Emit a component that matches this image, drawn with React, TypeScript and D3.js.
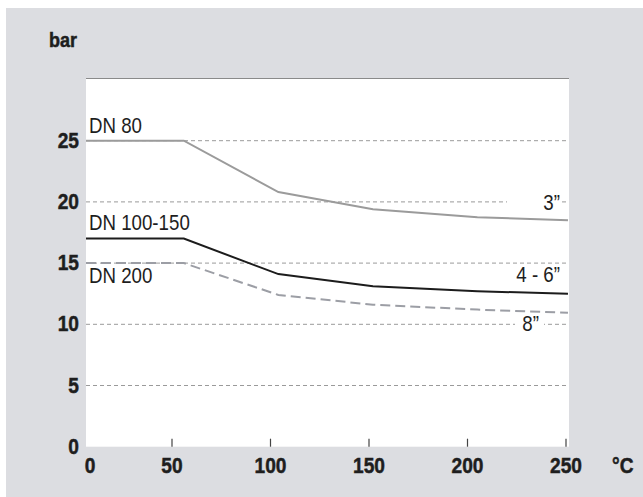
import React from "react";
import * as d3 from "d3";

// ---- data ----
const yTicks = [0, 5, 10, 15, 20, 25];
const xTicks = [0, 50, 100, 150, 200, 250];
const gridValues = [5, 10, 15, 20, 25];
const temps = [0, 56, 104, 152, 205, 251];
const dn80 = [25, 25, 20.8, 19.4, 18.75, 18.5];
const dn100 = [17, 17, 14.1, 13.1, 12.7, 12.5];
const dn200 = [15, 15, 12.4, 11.6, 11.2, 10.95];
const leftLabels = ["DN 80", "DN 100-150", "DN 200"];
const rightLabels = ["3\u201d", "4 - 6\u201d", "8\u201d"];
const yUnit = "bar";
const xUnit = "\u00b0C";

const W = 643;
const H = 497;
const plot = { left: 86, right: 569, top: 78, bottom: 446.7 };

const sans = "'Liberation Sans', Arial, Helvetica, sans-serif";

type NTextProps = {
  x: number;
  y: number;
  sx?: number;
  anchor?: "start" | "middle" | "end";
  bold?: boolean;
  size?: number;
  children: React.ReactNode;
};

function NText({ x, y, sx = 0.85, anchor = "start", bold = false, size = 22, children }: NTextProps) {
  return (
    <text
      transform={`translate(${x},${y}) scale(${sx},1)`}
      textAnchor={anchor}
      fontFamily={sans}
      fontSize={size}
      fontWeight={bold ? "bold" : "normal"}
      fill="#1e1e1e"
      stroke={bold ? "#1e1e1e" : "none"}
      strokeWidth={bold ? 0.5 : 0}
    >
      {children}
    </text>
  );
}

export default function App() {
  const x = d3.scaleLinear().domain([0, 50, 250]).range([86, 172, 566]);
  const y = d3.scaleLinear().domain([0, 30]).range([plot.bottom, 79.5]);

  const line = d3
    .line<[number, number]>()
    .x((d) => x(d[0]))
    .y((d) => y(d[1]));

  const toPts = (vals: number[]) => temps.map((t, i) => [t, vals[i]] as [number, number]);

  return (
    <svg
      width={W}
      height={H}
      style={{ position: "absolute", left: 0, top: 0 }}
      viewBox={`0 0 ${W} ${H}`}
    >
      <rect x={6} y={8} width={W - 6} height={H - 8} fill="#dcdde1" />
      <rect
        x={plot.left}
        y={plot.top}
        width={plot.right - plot.left}
        height={plot.bottom - plot.top}
        fill="#ffffff"
      />
      <line x1={plot.left} x2={plot.right} y1={plot.top + 0.5} y2={plot.top + 0.5} stroke="#8a8a8a" strokeWidth={1} />

      {/* grid lines */}
      {gridValues.map((v) => (
        <line
          key={v}
          x1={plot.left}
          x2={plot.right}
          y1={y(v)}
          y2={y(v)}
          stroke="#9a9a9a"
          strokeWidth={1}
          strokeDasharray="4,3"
        />
      ))}

      {/* label masks */}
      <rect x={507} y={y(20) - 8} width={55} height={18} fill="#ffffff" />
      <rect x={515} y={y(10) - 10} width={29} height={19} fill="#ffffff" />

      {/* x ticks */}
      {xTicks.slice(1).map((t) => (
        <line key={t} x1={x(t)} x2={x(t)} y1={plot.bottom} y2={plot.bottom - 8} stroke="#444" strokeWidth={1.2} />
      ))}

      {/* series */}
      <path d={line(toPts(dn80)) || ""} fill="none" stroke="#9b9b9b" strokeWidth={2} />
      <path d={line(toPts(dn100)) || ""} fill="none" stroke="#1c1c1c" strokeWidth={2} />
      <path d={line(toPts(dn200)) || ""} fill="none" stroke="#9c9ea5" strokeWidth={2} strokeDasharray="10,5" />

      {/* series labels */}
      <NText x={89} y={y(25) - 8}>{leftLabels[0]}</NText>
      <NText x={89} y={y(17) - 9}>{leftLabels[1]}</NText>
      <NText x={89} y={y(15) + 20}>{leftLabels[2]}</NText>
      <NText x={560} y={y(20) + 8} anchor="end">{rightLabels[0]}</NText>
      <NText x={560} y={y(15) + 19} anchor="end">{rightLabels[1]}</NText>
      <NText x={539} y={y(10) + 7} anchor="end">{rightLabels[2]}</NText>

      {/* axis tick labels */}
      {yTicks.map((v) => (
        <NText key={v} x={79} y={y(v) + 7} anchor="end" bold sx={0.87}>
          {v}
        </NText>
      ))}
      {xTicks.map((t) => (
        <NText key={t} x={t === 0 ? 90 : x(t)} y={473} anchor="middle" bold sx={0.87}>
          {t}
        </NText>
      ))}
      <NText x={612} y={473} bold sx={0.87}>{xUnit}</NText>
      <NText x={49} y={47} bold sx={0.9} size={20}>{yUnit}</NText>
    </svg>
  );
}
